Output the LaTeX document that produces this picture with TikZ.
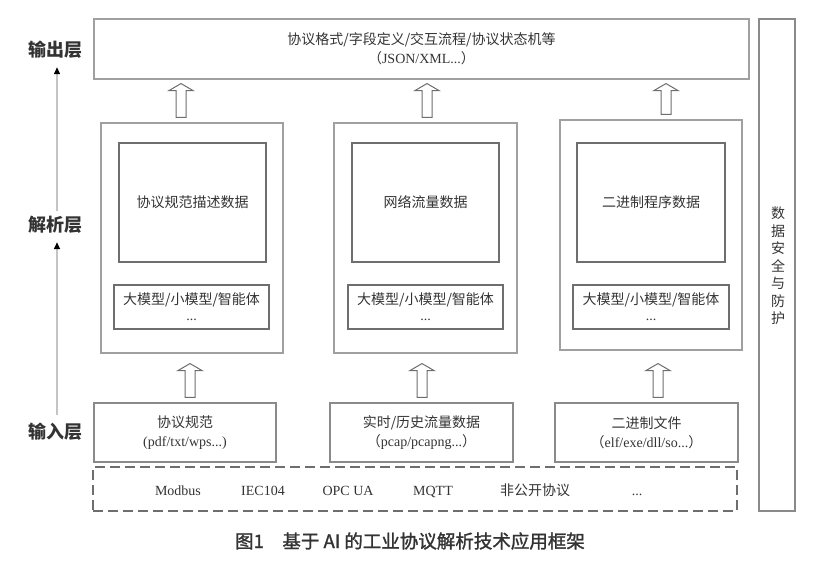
\documentclass[tikz,border=0pt]{standalone}
\usepackage{fontspec}
\setmainfont{Liberation Serif}
\newfontfamily\cjk{Noto Sans CJK SC}
\newfontfamily\cjkm{Noto Sans CJK SC}[FakeBold=1.5]
\usetikzlibrary{arrows.meta,calc}
\definecolor{txt}{HTML}{333333}
\definecolor{bdlight}{HTML}{A0A0A0}
\definecolor{bdmid}{HTML}{8A8A8A}
\definecolor{bddark}{HTML}{6E6E6E}
\definecolor{axisc}{HTML}{C4C4C4}
\tikzset{
  box/.style={draw=#1, line width=1.1pt, rectangle, inner sep=0pt, text=txt, align=center,
    font=\fontsize{14}{19}\selectfont},
  box/.default=bdmid,
  lbl/.style={inner sep=0pt, minimum height=34pt, text=txt, font=\cjk\bfseries\fontsize{18}{20}\selectfont},
  item/.style={inner sep=0pt, anchor=base, text=txt, font=\fontsize{14}{17}\selectfont},
  harrowstyle/.style={draw=bddark, fill=white, line width=1pt, line join=miter},
  axisline/.style={draw=axisc, line width=1.4pt, -{Triangle[length=7pt,width=6pt,color=black]}}
}
% #1 x, #2 bottom anchor, #3 top anchor, #4 gap below the top anchor
\newcommand\harrow[4]{%
  \draw[harrowstyle] let \p1=(#2), \p2=(#3) in
   (#1pt-5pt,\y1+5pt) -- (#1pt-5pt,\y2-#4pt-7pt) -- (#1pt-12pt,\y2-#4pt-7pt) -- (#1pt,\y2-#4pt)
   -- (#1pt+12pt,\y2-#4pt-7pt) -- (#1pt+5pt,\y2-#4pt-7pt) -- (#1pt+5pt,\y1+5pt) -- cycle;}
\begin{document}
\begin{tikzpicture}[x=1pt,y=-1pt]
\useasboundingbox (0,0) rectangle (831,573);
% output box
\node[box=bdlight, minimum width=655pt, minimum height=60pt] (out) at (421.5,49)
  {{\cjk 协议格式/字段定义/交互流程/协议状态机等}\\{\cjk （}JSON/XML...{\cjk ）}};
% security
\node[box=bdmid, minimum width=36pt, minimum height=492pt] (sec) at (777,265) {};
\node[inner sep=0pt, text=txt, align=center, font=\cjk\fontsize{14}{17.5}\selectfont] (sectxt) at (778,266)
  {数\\据\\安\\全\\与\\防\\护};
% panels
\node[box=bdlight, minimum width=182pt, minimum height=230pt] (P1) at (192,238) {};
\node[box=bdlight, minimum width=183pt, minimum height=230pt] (P2) at (425.5,238) {};
\node[box=bdlight, minimum width=182pt, minimum height=230pt] (P3) at (651,235) {};
\node[box=bddark, minimum width=147pt, minimum height=119pt] (T1) at (192.5,202.5) {\cjk 协议规范描述数据};
\node[box=bddark, minimum width=147pt, minimum height=119pt] (T2) at (425.5,202.5) {\cjk 网络流量数据};
\node[box=bddark, minimum width=148pt, minimum height=119pt] (T3) at (651,202.5) {\cjk 二进制程序数据};
\node[box=bddark, minimum width=155pt, minimum height=44pt] (B1) at (191.5,307) {{\cjk 大模型/小模型/智能体}\\[-3pt]...};
\node[box=bddark, minimum width=155pt, minimum height=44pt] (B2) at (425.5,307) {{\cjk 大模型/小模型/智能体}\\[-3pt]...};
\node[box=bddark, minimum width=156pt, minimum height=44pt] (B3) at (651,307) {{\cjk 大模型/小模型/智能体}\\[-3pt]...};
% input boxes
\node[box=bdmid, minimum width=182pt, minimum height=59pt] (I1) at (185,432.5) {{\cjk 协议规范}\\(pdf/txt/wps...)};
\node[box=bdmid, minimum width=183pt, minimum height=59pt] (I2) at (421.5,432.5) {{\cjk 实时/历史流量数据}\\{\cjk （}pcap/pcapng...{\cjk ）}};
\node[box=bdmid, minimum width=183pt, minimum height=59pt] (I3) at (646.5,432.5) {{\cjk 二进制文件}\\{\cjk （}elf/exe/dll/so...{\cjk ）}};
% dashed protocols box
\node[box=bddark, dash pattern=on 10pt off 5pt, minimum width=644pt, minimum height=44pt] (proto) at (415,489) {};
\node[item] (m1) at (178,495) {Modbus};
\node[item] (m2) at (263,495) {IEC104};
\node[item] (m3) at (348,495) {OPC UA};
\node[item] (m4) at (433,495) {MQTT};
\node[item] (m5) at (535,495) {\cjk 非公开协议};
\node[item] (m6) at (637,495) {...};
% hollow arrows
\harrow{181}{P1.north}{out.south}{4}
\harrow{427}{P2.north}{out.south}{4}
\harrow{666}{P3.north}{out.south}{4}
\harrow{190}{I1.north}{P1.south}{10}
\harrow{422}{I2.north}{P2.south}{10}
\harrow{658}{I3.north}{P3.south}{13}
% layer labels and axis
\node[lbl] (Lout) at (55,50) {输出层};
\node[lbl] (Lana) at (55,225) {解析层};
\node[lbl] (Lin) at (55,432) {输入层};
\draw[axisline] ($(Lin.north)+(2,0)$) -- ($(Lana.south)+(2,0)$);
\draw[axisline] ($(Lana.north)+(2,3)$) -- ($(Lout.south)+(2,0)$);
% caption
\node[inner sep=0pt, text=txt, font=\cjkm\fontsize{18.5}{20}\selectfont] (cap) at (410,541)
  {图1\hspace{1em}基于 AI 的工业协议解析技术应用框架};
\end{tikzpicture}
\end{document}
